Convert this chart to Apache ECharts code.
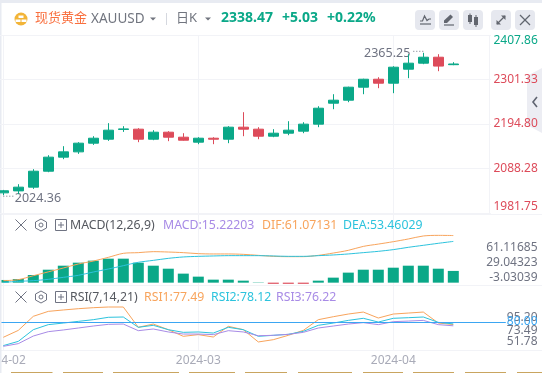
<!DOCTYPE html>
<html>
<head>
<meta charset="utf-8">
<title>现货黄金 XAUUSD</title>
<script src="https://cdn.jsdelivr.net/npm/echarts@6/dist/echarts.min.js"></script>
<style>
html,body{margin:0;padding:0;background:#fff;}
#main{width:542px;height:373px;}
</style>
</head>
<body>
<div id="main"></div>
<script>
// 日K数据 [开,收,低,高]
var categories = ['2024-02','','','','','','','','','','','','','2024-03','','','','','','','','','','','','','2024-04','','','','','',''];
var candles = [
    [2030,2035,2024.36,2037],[2034.7,2043.6,2026.8,2050.7],[2043.6,2081.8,2039.5,2086.6],[2081.8,2115.4,2079.4,2120.1],
    [2115.4,2128.1,2110.6,2141.7],[2128.1,2148.9,2123.3,2151.3],[2148.9,2160.8,2144.8,2165.6],[2158.4,2180,2154.4,2196.8],
    [2181.7,2183.1,2175.9,2189.6],[2182.4,2158.4,2151.3,2184.8],[2158.4,2175.2,2156,2180],[2175.2,2163.2,2153.7,2177.6],
    [2163.2,2156,2154.9,2172.8],[2151.3,2160.8,2146.5,2163.2],[2160.8,2158.4,2146.5,2163.2],[2158.4,2187.2,2148.9,2189.6],
    [2187.2,2182.4,2165.6,2223.1],[2182.4,2165.6,2158.4,2187.2],[2165.6,2172.8,2163.2,2182.4],[2172.8,2180,2168,2201.5],
    [2177.6,2194.4,2172.8,2199.1],[2194.4,2232.6,2187.2,2237.4],[2244.6,2251.8,2230.2,2266.1],[2251.8,2282.9,2247,2284.1],
    [2282.9,2302,2266.1,2303.2],[2302,2292.5,2280.5,2306.8],[2292.5,2330.8,2268.6,2333.2],[2326,2340.4,2304.5,2361.9],
    [2340.4,2354.7,2338,2365.25],[2354.7,2333.44,2321.2,2361.9],[2336.8,2338.47,2335.6,2342.8]
];
var macd = [3.5,4.75,9.9,16.8,22,25.9,28.5,31.1,31.1,25.9,22,18.1,11.7,7.8,3.9,3.9,2.6,0.4,-1.5,-1.5,-1.5,2.6,6.5,13,16.8,16.8,19.4,22,22,18.1,15.22];
var dif = [2.6,3.9,9,14,19,24.2,28,32.8,38,38.9,40.2,39.7,38.9,37.6,37.2,37.2,36.7,35.4,34.1,33.7,33.7,35.4,38.4,41.9,47,50,53.1,56.6,60.5,61.3,61.07];
var dea = [0.4,1.7,2.6,4.3,6.9,9.5,13.8,17.7,22,26.4,28.9,31.5,33.3,34.1,34.6,35,35,35,34.6,34.1,34.1,35,35.9,37.2,38.9,40.6,42.8,45.8,48.4,51,53.46];
var rsi1 = [64.6,71.6,85.8,90.8,92.2,93.5,94.5,95.2,95.2,74.7,78,72.3,65.6,67.3,64.9,75.7,72.3,59.9,62.2,66.6,71.6,82.4,85.4,88.1,90.1,84.1,88.1,89.1,90.1,79,77.49];
var rsi2 = [56.2,60.5,72.3,77.4,79,80.7,82.4,84.8,85.1,74.7,76.7,72.3,69.6,70,68.9,74.7,72.3,65.6,66.6,67.6,70.6,76.7,79,81.7,83.8,80,83.8,84.4,85.1,79.7,78.12];
var rsi3 = [55.5,58.2,65.9,70.3,72,74,76,77.7,78,71.3,73,70,67.9,67.9,67.3,71.3,70,66.2,66.6,67.6,69.6,74,76,78,79.4,77.4,80.4,81,81.7,77.4,76.22];
var priceTicks = [1981.75,2088.28,2194.80,2301.33,2407.86];
var macdTicks = ['61.11685','29.04323','-3.03039'];
var rsiTicks = ['95.20','80.00','73.49','51.78'];
var rsiLimit = 80;
var highMark = [28,2365.25];
var lowMark = [0,2024.36];

var UP = '#0aa888', DOWN = '#dd4b5a', GRAY = '#6f7382', LINE = '#f2f3f7';
var ORANGE = '#f8a45c', CYAN = '#2cc3dd', PURPLE = '#a88be6', BLUE = '#3ba6f2';
var FONT = '"Noto Sans","Noto Sans CJK SC",sans-serif';

var myChart = echarts.init(document.getElementById('main'));

function txt(x,y,str,color,size,align,weight){
    return {type:'text',x:x,y:y,z:20,silent:true,style:{text:str,fill:color,font:(weight||'normal')+' '+(size||12)+'px '+FONT,align:align||'left',verticalAlign:'middle'}};
}
function seg(x1,y1,x2,y2,color,w,dash,z){
    return {type:'line',z:z||5,silent:true,shape:{x1:x1,y1:y1,x2:x2,y2:y2},style:{stroke:color,lineWidth:w||1,lineDash:dash||null}};
}
function box(x,y,w,h,color,r,z){
    return {type:'rect',z:z||6,silent:true,shape:{x:x,y:y,width:w,height:h,r:r||0},style:{fill:color}};
}
function poly(points,color,w,fill){
    return {type:fill?'polygon':'polyline',z:21,silent:true,shape:{points:points},style:fill?{fill:color}:{stroke:color,lineWidth:w||1,fill:'none'}};
}
function onlyMonths(i,v){
    return v!=='';
}

myChart.setOption({
    animation:false,
    backgroundColor:'#fff',
    grid:[
        {left:-4.2,top:35,width:495,height:178,outerBoundsMode:'none'},
        {left:-4.2,top:215,width:495,height:70,outerBoundsMode:'none'},
        {left:-4.2,top:285,width:510,height:65,outerBoundsMode:'none'}
    ],
    xAxis:[
        {type:'category',gridIndex:0,data:categories,axisLine:{show:false},axisTick:{show:false},axisLabel:{show:false},
            splitLine:{show:true,alignWithLabel:true,interval:onlyMonths,lineStyle:{color:LINE}}},
        {type:'category',gridIndex:1,data:categories,axisLine:{show:false},axisTick:{show:false},axisLabel:{show:false},
            splitLine:{show:true,alignWithLabel:true,interval:onlyMonths,lineStyle:{color:LINE}}},
        {type:'category',gridIndex:2,data:categories.concat(['']),axisLine:{show:false},axisTick:{show:false},
            axisLabel:{interval:0,color:'#a9abb8',fontFamily:FONT,fontSize:12,margin:5},
            splitLine:{show:true,alignWithLabel:true,interval:onlyMonths,lineStyle:{color:LINE}}}
    ],
    yAxis:[
        {type:'value',gridIndex:0,position:'right',min:1981.75,max:2407.86,z:30,
            axisLine:{show:false},axisTick:{show:false,customValues:priceTicks},splitLine:{show:true,lineStyle:{color:LINE}},
            axisLabel:{customValues:priceTicks,inside:false,align:'right',margin:47,fontFamily:FONT,fontSize:12,verticalAlignMinLabel:'bottom',verticalAlignMaxLabel:'top',
                formatter:function(v){return v.toFixed(2);},
                color:function(v){return parseFloat(v)>2338.47?UP:DOWN;}}},
        {type:'value',gridIndex:1,min:-3.03,max:87.69,show:false},
        {type:'value',gridIndex:2,min:51.78,max:117.43,show:false}
    ],
    series:[
        {type:'candlestick',xAxisIndex:0,yAxisIndex:0,data:candles,barWidth:10,z:31,
            itemStyle:{color:UP,color0:DOWN,borderColor:UP,borderColor0:DOWN,borderWidth:1}},
        {type:'bar',xAxisIndex:1,yAxisIndex:1,barWidth:11,data:macd,
            itemStyle:{color:function(p){return p.value<0?DOWN:UP;}}},
        {type:'line',xAxisIndex:1,yAxisIndex:1,data:dif,showSymbol:false,smooth:0.3,lineStyle:{color:ORANGE,width:1}},
        {type:'line',xAxisIndex:1,yAxisIndex:1,data:dea,showSymbol:false,smooth:0.3,lineStyle:{color:CYAN,width:1}},
        {type:'line',xAxisIndex:2,yAxisIndex:2,data:rsi1,showSymbol:false,lineStyle:{color:ORANGE,width:1}},
        {type:'line',xAxisIndex:2,yAxisIndex:2,data:rsi2,showSymbol:false,lineStyle:{color:CYAN,width:1}},
        {type:'line',xAxisIndex:2,yAxisIndex:2,data:rsi3,showSymbol:false,lineStyle:{color:PURPLE,width:1},
            markLine:{silent:true,symbol:'none',label:{show:false},lineStyle:{color:BLUE,width:1,type:'solid'},data:[{yAxis:rsiLimit}]}}
    ]
});

// 最高最低价标注
var hi = myChart.convertToPixel({xAxisIndex:0,yAxisIndex:0},highMark);
var lo = myChart.convertToPixel({xAxisIndex:0,yAxisIndex:0},lowMark);

var g = [];
// 外框
g.push(box(0,0,542,3,'#e8ebf2'));
g.push(box(0,0,1.5,373,'#e8ebf2'));
// 面板分隔线
g.push(seg(0,35.5,489.5,35.5,LINE));
g.push(seg(489.5,35,489.5,215,LINE));
g.push(seg(0,214.5,542,214.5,LINE));
g.push(seg(0,285.5,542,285.5,LINE));
g.push(seg(0,350.5,542,350.5,LINE));

// 标题栏
g.push({type:'circle',z:20,silent:true,shape:{cx:21,cy:19,r:6.5},style:{fill:'#f2b437'}});
g.push(box(18.5,15.5,5,2.5,'#fff',0,21));
g.push(box(15.5,19.5,5,2.5,'#fff',0,21));
g.push(box(21.5,19.5,5,2.5,'#fff',0,21));
g.push(txt(35,18,'现货黄金','#f96f3e',13));
g.push(txt(91,19,'XAUUSD','#71757f',13.5));
g.push(poly([[150,17.5],[156,17.5],[153,20.5]],'#71757f',1,true));
g.push(seg(166.5,13,166.5,25,'#d5d8df'));
g.push(txt(176,18,'日K','#71757f',13));
g.push(poly([[205,17.5],[211,17.5],[208,20.5]],'#71757f',1,true));
g.push(txt(221,18,'2338.47',UP,14,'left','bold'));
g.push(txt(282,18,'+5.03',UP,14,'left','bold'));
g.push(txt(327,18,'+0.22%',UP,14,'left','bold'));

// 工具按钮
var btnX = [415,439,463,491,515];
btnX.forEach(function(x){ g.push(box(x,10,20,20,'#e6e8ef',4)); });
var ic = '#62666f';
g.push(poly([[420,21],[422.5,21],[424.5,16],[427,20.5],[429,19],[431,19]],ic,1.2));
g.push(seg(420,24,431,24,ic,1.2,null,21));
g.push(poly([[444,23],[444,20.5],[450.5,14.5],[453,17],[447,23]],ic,1,true));
g.push(seg(444,25,454,25,ic,1.2,null,21));
g.push(box(468,15,4,7,ic,0,21));
g.push(box(474,17,4,8,ic,0,21));
g.push(seg(470,13.5,470,24,ic,1,null,21));
g.push(seg(476,15,476,27,ic,1,null,21));
g.push(seg(497,24,505,16,ic,1.2,null,21));
g.push(poly([[501,15.5],[505.5,15.5],[505.5,20]],ic,1,true));
g.push(poly([[496.5,20],[496.5,24.5],[501,24.5]],ic,1,true));
g.push(seg(520,15,530,25,ic,1.2,null,21));
g.push(seg(530,15,520,25,ic,1.2,null,21));

// 标注
g.push(txt(hi[0]-13,hi[1]+1,highMark[1].toFixed(2),GRAY,12.5,'right'));
g.push(seg(hi[0]-10,hi[1]-1.5,hi[0],hi[1]-1.5,GRAY,1,[1,2],21));
g.push(txt(lo[0]+11.5,lo[1]+3.5,lowMark[1].toFixed(2),GRAY,12.5));
g.push(seg(lo[0],lo[1]+1,lo[0]+10,lo[1]+1,GRAY,1,[1,2],21));

// 指标标题
function indicatorIcons(y){
    g.push(seg(15.5,y-5.5,26.5,y+5.5,GRAY,1,null,21));
    g.push(seg(26.5,y-5.5,15.5,y+5.5,GRAY,1,null,21));
    g.push(poly([[41,y-6],[46.5,y-3],[46.5,y+3],[41,y+6],[35.5,y+3],[35.5,y-3],[41,y-6]],GRAY,1));
    g.push({type:'circle',z:21,silent:true,shape:{cx:41,cy:y,r:2},style:{stroke:GRAY,fill:'none'}});
    g.push({type:'rect',z:21,silent:true,shape:{x:55.5,y:y-5.5,width:11,height:11},style:{stroke:GRAY,fill:'none'}});
    g.push(seg(58,y,64,y,GRAY,1,null,21));
    g.push(seg(61,y-3,61,y+3,GRAY,1,null,21));
}
indicatorIcons(225);
g.push(txt(70,225,'MACD(12,26,9)','#55585f',12.3));
g.push(txt(163,225,'MACD:15.22203',PURPLE,12.3));
g.push(txt(262,225,'DIF:61.07131',ORANGE,12.3));
g.push(txt(343,225,'DEA:53.46029',CYAN,12.3));
indicatorIcons(297);
g.push(txt(70,297,'RSI(7,14,21)','#55585f',12.3));
g.push(txt(144,297,'RSI1:77.49',ORANGE,12.3));
g.push(txt(211,297,'RSI2:78.12',CYAN,12.3));
g.push(txt(276,297,'RSI3:76.22',PURPLE,12.3));

// 指标刻度(防重叠后的位置)
var macdTickY = [247.7,262.7,277.7];
macdTicks.forEach(function(t,i){ g.push(txt(537.5,macdTickY[i],t,GRAY,12,'right')); });
var rsiTickY = [318,322,330.7,341.7];
var rsiTickColor = [GRAY,BLUE,GRAY,GRAY];
rsiTicks.forEach(function(t,i){ g.push(txt(537.5,rsiTickY[i],t,rsiTickColor[i],12,'right')); });

// 右侧收起按钮
g.push({type:'polygon',z:4,silent:true,shape:{points:[[542,68],[527,76],[527,125],[542,133]]},style:{fill:'#ecedf3'}});
g.push(poly([[537,97],[533,102],[537,107]],'#5f6470',1.6));

// 底部标签
var tabs = [[11,41.5],[63,40],[113,66],[189,46],[245,42],[298,54],[363,40],[413,41],[465,41],[517,25]];
tabs.forEach(function(t){ g.push(box(t[0],372,t[1],1,'#c9a560')); });

myChart.setOption({graphic:{elements:g}});
</script>
</body>
</html>
